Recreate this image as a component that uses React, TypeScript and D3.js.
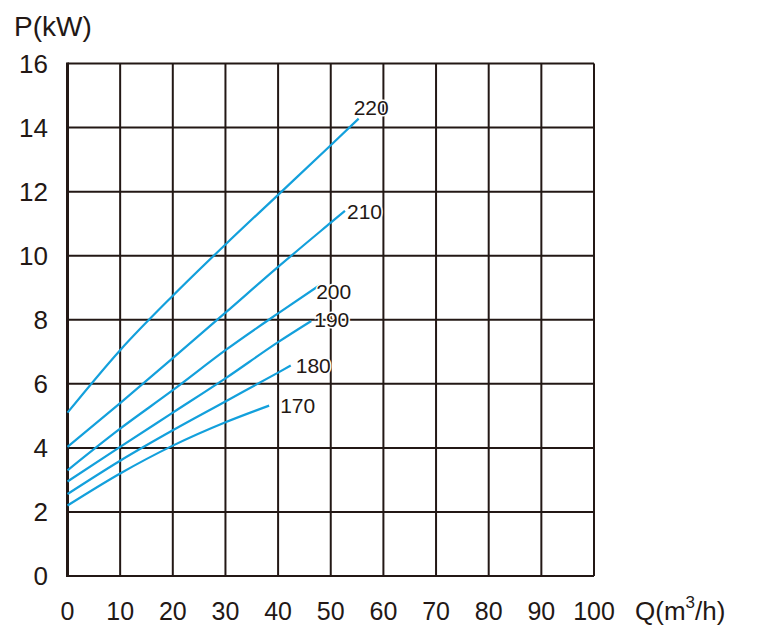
import * as React from "react";
import { line, curveMonotoneX, range, scaleLinear } from "d3";

// Q (m3/h) on the x axis, P (kW) on the y axis
const xTicks = range(0, 101, 10);
const yTicks = range(0, 17, 2);

const curveNames = ["220", "210", "200", "190", "180", "170"];

const curve220 = [
  [0, 5.1], [10, 7.05], [20, 8.75], [30, 10.35], [40, 11.9], [50, 13.45], [55.3, 14.28],
];
const curve210 = [
  [0, 4.03], [10, 5.4], [20, 6.8], [30, 8.22], [40, 9.65], [50, 11.03], [52.7, 11.4],
];
const curve200 = [
  [0, 3.3], [10, 4.6], [20, 5.8], [30, 7.05], [40, 8.2], [47.8, 9.07],
];
const curve190 = [
  [0, 2.95], [10, 4.03], [20, 5.1], [30, 6.17], [40, 7.3], [46.3, 7.96],
];
const curve180 = [
  [0, 2.56], [10, 3.6], [20, 4.55], [30, 5.45], [40, 6.35], [42.4, 6.57],
];
const curve170 = [
  [0, 2.2], [10, 3.2], [20, 4.07], [30, 4.8], [38.3, 5.32],
];

const curves = [curve220, curve210, curve200, curve190, curve180, curve170];

// pixel offset of each label from the end of its curve
const labelOffsets = [
  [-5, -4], [2, 8], [-3, 14], [3, 5.5], [5, 7], [11, 7],
];

const width = 766;
const height = 635;
const gridColor = "#231815";
const lineColor = "#13a0dc";
const font = "Arial, 'Liberation Sans', Helvetica, sans-serif";

export default function App() {
  const x = scaleLinear().domain([0, 100]).range([67.5, 594]);
  const y = scaleLinear().domain([0, 16]).range([576, 63.5]);

  const path = line<number[]>()
    .x((d) => x(d[0]))
    .y((d) => y(d[1]))
    .curve(curveMonotoneX);

  return (
    <svg
      width={width}
      height={height}
      style={{ position: "absolute", left: 0, top: 0, background: "#fff" }}
      fontFamily={font}
    >
      {/* grid */}
      {xTicks.slice(1).map((t) => (
        <line
          key={`vx-${t}`}
          x1={x(t)}
          x2={x(t)}
          y1={y(0)}
          y2={y(16)}
          stroke={gridColor}
          strokeWidth={2}
        />
      ))}
      {yTicks.map((t) => (
        <line
          key={`hy-${t}`}
          x1={x(0)}
          x2={x(100)}
          y1={y(t)}
          y2={y(t)}
          stroke={gridColor}
          strokeWidth={2}
        />
      ))}
      <line
        x1={x(0)}
        x2={x(0)}
        y1={y(0) + 1}
        y2={y(16) - 1}
        stroke={gridColor}
        strokeWidth={3}
      />

      {/* curves */}
      {curves.map((c, i) => (
        <path
          key={`c-${curveNames[i]}`}
          d={path(c) ?? ""}
          fill="none"
          stroke={lineColor}
          strokeWidth={2.2}
        />
      ))}
      {curves.map((c, i) => {
        const end = c[c.length - 1];
        return (
          <text
            key={`l-${curveNames[i]}`}
            x={x(end[0]) + labelOffsets[i][0]}
            y={y(end[1]) + labelOffsets[i][1]}
            fontSize={21}
            fill={gridColor}
            stroke="#fff"
            strokeWidth={3}
            paintOrder="stroke"
          >
            {curveNames[i]}
          </text>
        );
      })}

      {/* tick labels */}
      {yTicks.map((t) => (
        <text
          key={`ty-${t}`}
          x={48}
          y={y(t)}
          dy="0.36em"
          textAnchor="end"
          fontSize={26}
          fill={gridColor}
        >
          {t}
        </text>
      ))}
      {xTicks.map((t) => (
        <text
          key={`tx-${t}`}
          x={x(t)}
          y={620}
          textAnchor="middle"
          fontSize={25}
          fill={gridColor}
        >
          {t}
        </text>
      ))}

      {/* axis titles */}
      <text x={14} y={36} fontSize={28} fill={gridColor}>
        P(kW)
      </text>
      <text x={635} y={620} fontSize={26} fill={gridColor}>
        Q(m
        <tspan fontSize={17} dy={-12}>
          3
        </tspan>
        <tspan dy={12}>/h)</tspan>
      </text>
    </svg>
  );
}
